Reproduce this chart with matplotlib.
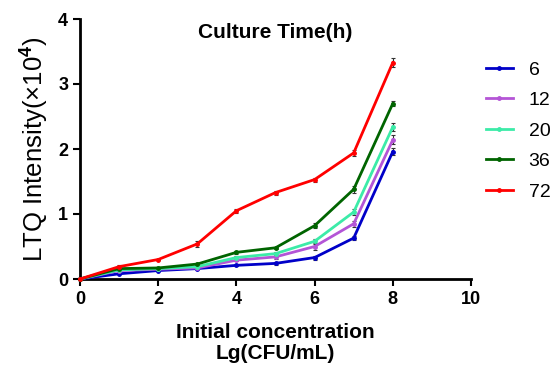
import numpy as np
import matplotlib.pyplot as plt
from matplotlib.lines import Line2D

plt.rcParams['font.family'] = ['Liberation Sans', 'DejaVu Sans']
plt.rcParams['font.weight'] = 'bold'
plt.rcParams['mathtext.fontset'] = 'custom'
plt.rcParams['mathtext.rm'] = 'Liberation Sans'

x = np.array([0, 1, 2, 3, 4, 5, 6, 7, 8])
times = ['6', '12', '20', '36', '72']
colors = ['#0000C8', '#B455D6', '#3CEBA8', '#006400', '#FF0000']

y6 = [0, 0.08, 0.13, 0.16, 0.21, 0.24, 0.33, 0.63, 1.96]
y12 = [0, 0.13, 0.15, 0.17, 0.29, 0.34, 0.50, 0.85, 2.14]
y20 = [0, 0.14, 0.16, 0.19, 0.33, 0.39, 0.58, 1.03, 2.34]
y36 = [0, 0.16, 0.17, 0.23, 0.41, 0.48, 0.82, 1.38, 2.70]
y72 = [0, 0.19, 0.30, 0.54, 1.05, 1.33, 1.53, 1.94, 3.33]

e6 = [0, 0.01, 0.01, 0.01, 0.01, 0.02, 0.03, 0.03, 0.05]
e12 = [0, 0.01, 0.01, 0.01, 0.02, 0.03, 0.06, 0.05, 0.07]
e20 = [0, 0.01, 0.01, 0.01, 0.02, 0.02, 0.04, 0.04, 0.06]
e36 = [0, 0.01, 0.01, 0.01, 0.02, 0.02, 0.04, 0.05, 0.04]
e72 = [0, 0.02, 0.01, 0.04, 0.03, 0.03, 0.03, 0.04, 0.07]

series = [y6, y12, y20, y36, y72]
errs = [e6, e12, e20, e36, e72]

fig = plt.figure(figsize=(5.52, 3.65), dpi=100)
ax = fig.add_axes([80 / 552, 1 - 279 / 365, 391 / 552, 260 / 365])

handles = []
for lab, c, y, e in zip(times, colors, series, errs):
    ax.errorbar(x, y, yerr=e, color=c, lw=2, marker='o', ms=2.5,
                ecolor='#333333', elinewidth=0.8, capsize=1.5, capthick=0.8,
                clip_on=False, zorder=4 if lab == '72' else 3)
    handles.append(Line2D([], [], color=c, lw=2, marker='o', ms=2.5, label=lab))

ax.set_xlim(0, 10)
ax.set_ylim(0, 4)
ax.set_xticks([0, 2, 4, 6, 8, 10])
ax.set_yticks([0, 1, 2, 3, 4])
ax.tick_params(width=1.5, length=5, labelsize=13)
for s in ['top', 'right']:
    ax.spines[s].set_visible(False)
for s in ['left', 'bottom']:
    ax.spines[s].set_linewidth(2)

ax.set_xlabel('Initial concentration\nLg(CFU/mL)', fontsize=15, fontweight='bold',
              linespacing=1.1, labelpad=11)
ax.set_ylabel('LTQ Intensity(×10$^{4}$)', fontsize=18.5, fontweight='normal',
              labelpad=6)
ax.text(0.5, 0.95, 'Culture Time(h)', transform=ax.transAxes, ha='center',
        va='center', fontsize=15, fontweight='bold')

ax.legend(handles=handles, loc='upper left', bbox_to_anchor=(0.993, 0.905),
          frameon=False, handlelength=1.4, handletextpad=0.8, labelspacing=0.66,
          prop={'weight': 'normal', 'size': 14})
plt.savefig('out.png', dpi=100)
